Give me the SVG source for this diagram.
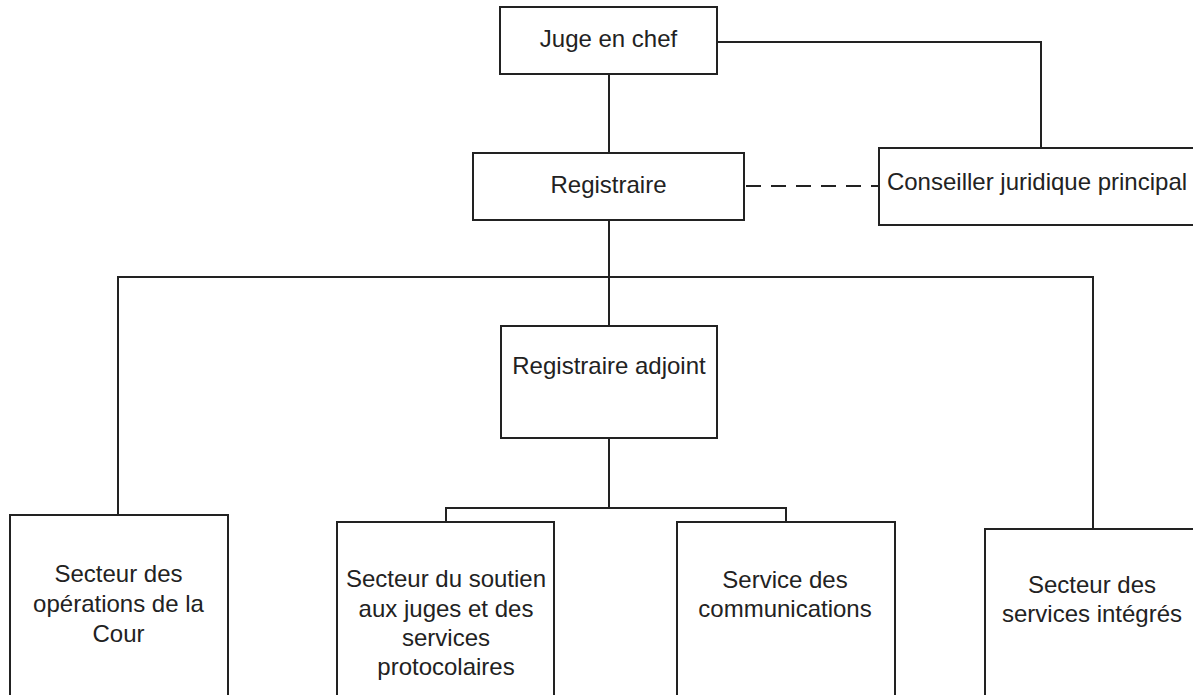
<svg xmlns="http://www.w3.org/2000/svg" width="1193" height="695" viewBox="0 0 1193 695">
<style>
.box{fill:#fff;stroke:#222;stroke-width:2}
.ln{fill:none;stroke:#222;stroke-width:2}
.dash{stroke-dasharray:15 10}
text{font-family:"Liberation Sans",Arial,sans-serif;font-size:24px;fill:#222;text-anchor:middle}
</style>
<rect width="1193" height="695" fill="#fff"/>
<g id="connectors">
<path class="ln" d="M609 74V153"/>
<path class="ln" d="M717 42H1041V148"/>
<path class="ln dash" d="M744 186H879" stroke-dashoffset="-2"/>
<path class="ln" d="M609 220V326"/>
<path class="ln" d="M118 515V277H1093V529"/>
<path class="ln" d="M609 438V508"/>
<path class="ln" d="M446 522V508H786V522"/>
</g>
<g id="juge"><rect class="box" x="500" y="7" width="217" height="67"/><text x="608.5" y="47">Juge en chef</text></g>
<g id="registraire"><rect class="box" x="473" y="153" width="271" height="67"/><text x="608.5" y="193">Registraire</text></g>
<g id="conseiller"><rect class="box" x="879" y="148" width="320" height="77"/><text x="1037" y="190">Conseiller juridique principal</text></g>
<g id="adjoint"><rect class="box" x="501" y="326" width="216" height="112"/><text x="609" y="374">Registraire adjoint</text></g>
<g id="operations"><rect class="box" x="10" y="515" width="218" height="200"/><text x="118.5" y="582">Secteur des</text><text x="118.5" y="612">opérations de la</text><text x="118.5" y="642">Cour</text></g>
<g id="soutien"><rect class="box" x="337" y="522" width="217" height="200"/><text x="446" y="587">Secteur du soutien</text><text x="446" y="617">aux juges et des</text><text x="446" y="646">services</text><text x="446" y="675">protocolaires</text></g>
<g id="communications"><rect class="box" x="677" y="522" width="218" height="200"/><text x="785" y="588">Service des</text><text x="785" y="617">communications</text></g>
<g id="integres"><rect class="box" x="985" y="529" width="218" height="200"/><text x="1092" y="593">Secteur des</text><text x="1092" y="622">services intégrés</text></g>
</svg>
